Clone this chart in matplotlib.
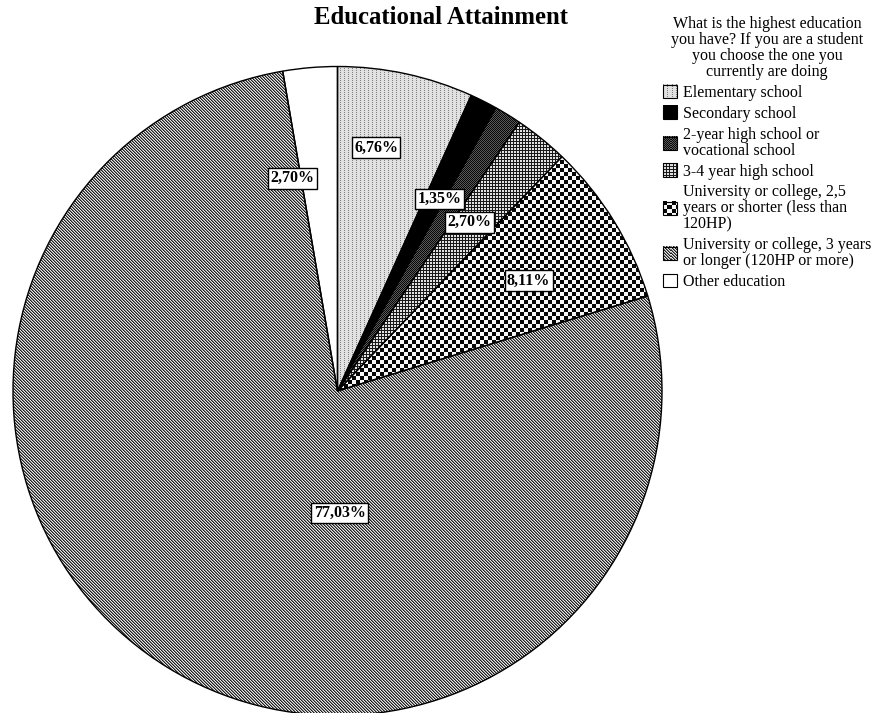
import numpy as np
import matplotlib
matplotlib.use('Agg')
import matplotlib.pyplot as plt
from matplotlib.patches import Rectangle
from matplotlib.image import BboxImage
from matplotlib.transforms import Bbox, TransformedBbox
from matplotlib.colors import Normalize
from matplotlib.legend_handler import HandlerBase

plt.rcParams['font.family'] = ['Liberation Serif', 'DejaVu Serif']

# survey answers (share of respondents, %)
categories = ['Elementary school',
              'Secondary school',
              '2-year high school or\nvocational school',
              '3-4 year high school',
              'University or college, 2,5\nyears or shorter (less than\n120HP)',
              'University or college, 3 years\nor longer (120HP or more)',
              'Other education']
shares = [6.76, 1.35, 1.35, 2.70, 8.11, 77.03, 2.70]
show_label = [True, True, False, True, True, True, True]

# where each value label sits: (angle in degrees, fraction of radius)
label_pos = [(81, 0.76), (62, 0.67), None, (52, 0.66), (30, 0.68), (-89, 0.376), (102, 0.67)]

W, H = 874, 713
cx, cy, R = 337.5, H - 391, 324.5


# fill textures, grey levels 0..1, built on the pixel grid
def tex_elem(yy, xx):
    return np.where((xx % 4 == 0) & (yy % 2 == 0), 0.5, 0.88)

def tex_second(yy, xx):
    return np.zeros(xx.shape)

def tex_twoyear(yy, xx):
    return np.where((xx + yy) % 2 == 0, 0.03, 0.35)

def tex_threefour(yy, xx):
    return np.where((xx % 3 == 0) | (yy % 3 == 0), 0.1, 0.88)

def tex_uni_short(yy, xx):
    return np.where((xx // 4 + yy // 4) % 2 == 0, 0.03, 0.97)

def tex_uni_long(yy, xx):
    k = (xx - yy) % 3
    return np.choose(k, [0.12, 0.5, 0.9])

def tex_other(yy, xx):
    return np.ones(xx.shape)

textures = [tex_elem, tex_second, tex_twoyear, tex_threefour,
            tex_uni_short, tex_uni_long, tex_other]

fig = plt.figure(figsize=(W / 100, H / 100), dpi=100)
ax = fig.add_axes([0, 0, 1, 1])

wedges, _ = ax.pie(shares, startangle=90, counterclock=False,
                   center=(cx, cy), radius=R,
                   wedgeprops=dict(linewidth=1.0, edgecolor='black'))
ax.set_xlim(0, W)
ax.set_ylim(0, H)
ax.set_aspect('auto')
ax.axis('off')

yy, xx = np.mgrid[0:H, 0:W]
for w, tex in zip(wedges, textures):
    im = ax.imshow(tex(yy, xx), extent=(0, W, 0, H), origin='upper',
                   cmap='gray', vmin=0, vmax=1, interpolation='nearest', zorder=1)
    im.set_clip_path(w)
    w.set_facecolor('none')
    w.set_zorder(2)

for v, pos, show in zip(shares, label_pos, show_label):
    if not show:
        continue
    ang, rf = pos
    x = cx + rf * R * np.cos(np.radians(ang))
    y = cy + rf * R * np.sin(np.radians(ang))
    ax.text(x, y, f'{v:.2f}%'.replace('.', ','), ha='center', va='center',
            fontsize=11.5, fontweight='bold', zorder=5,
            bbox=dict(boxstyle='square,pad=0.15', fc='white', ec='black', lw=1))

fig.text(441 / W, 1 - 18 / H, 'Educational Attainment', ha='center', va='center',
         fontsize=17.8, fontweight='bold')


class TextureHandler(HandlerBase):
    def __init__(self, tex):
        super().__init__()
        self.tex = tex

    def create_artists(self, legend, orig_handle, xdescent, ydescent,
                       width, height, fontsize, trans):
        bb = Bbox.from_bounds(-xdescent, -ydescent, width, height)
        img = BboxImage(TransformedBbox(bb, trans), cmap='gray',
                        norm=Normalize(0, 1), interpolation='nearest', origin='upper')
        sy, sx = np.mgrid[0:14, 0:14]
        img.set_data(self.tex(sy, sx))
        rect = Rectangle((-xdescent, -ydescent), width, height,
                         fc='none', ec='black', lw=0.8, transform=trans)
        return [img, rect]


handles = [Rectangle((0, 0), 1, 1) for _ in categories]
hmap = {h: TextureHandler(t) for h, t in zip(handles, textures)}
leg = fig.legend(handles, categories, handler_map=hmap, loc='upper left',
                 bbox_to_anchor=(663 / W, 1 - 16 / H), frameon=False,
                 title='What is the highest education\nyou have? If you are a student\n'
                       'you choose the one you\ncurrently are doing',
                 fontsize=11.5, title_fontsize=11.5, handlelength=0.9,
                 handleheight=0.9, handletextpad=0.35, labelspacing=0.3,
                 borderpad=0, borderaxespad=0)
leg.get_title().set_multialignment('center')
leg.get_title().set_linespacing(1.0)
for t in leg.get_texts():
    t.set_linespacing(1.0)

fig.savefig('out.png', dpi=100)
